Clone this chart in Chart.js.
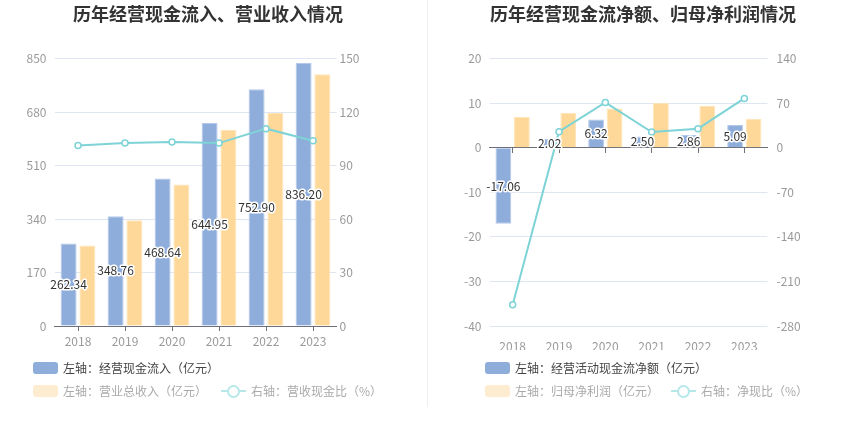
<!DOCTYPE html>
<html>
<head>
<meta charset="utf-8">
<script src="https://cdn.jsdelivr.net/npm/chart.js@4"></script>
<style>
  body { margin:0; width:850px; height:437px; background:#fff; position:relative; overflow:hidden;
         font-family:"Noto Sans CJK SC","Noto Sans",sans-serif; }
  .box { position:absolute; top:0; width:425px; height:350px; }
  #divider { position:absolute; left:427px; top:0; width:1px; height:407px; background:#eeeeee; }
  .lg { position:absolute; font-size:12px; line-height:14px; white-space:nowrap; }
  .sw { position:absolute; width:25px; height:12px; border-radius:3px; }
  .ln { position:absolute; width:25px; height:2px; }
  .ln i { position:absolute; left:6px; top:-5px; width:9px; height:9px; border-radius:50%; background:#fff; border:2px solid; }
</style>
</head>
<body>
<div class="box" style="left:0"><canvas id="c1"></canvas></div>
<div class="box" style="left:425px"><canvas id="c2"></canvas></div>
<div id="divider"></div>
<div id="legend"></div>
<script>
// ===== data =====
const years = ["2018","2019","2020","2021","2022","2023"];

// 左图
const cashIn   = [262.34, 348.76, 468.64, 644.95, 752.90, 836.20];
const revenue  = [255.6, 336.5, 449.8, 624.0, 677.0, 800.0];
const cashRate = [101.3, 102.6, 103.2, 102.6, 110.7, 103.9];

// 右图
const netCash   = [-17.06, 2.02, 6.32, 2.50, 2.86, 5.09];
const netProfit = [6.9, 7.86, 8.83, 10.1, 9.43, 6.5];
const netRate   = [-246.7, 25.1, 71.2, 24.6, 29.9, 77.5];

const leftTicks1  = [0, 850, 170];
const rightTicks1 = [0, 150, 30];
const leftTicks2  = [-40, 20, 10];
const rightTicks2 = [-280, 140, 70];

const BLUE = "#8eaddb", ORANGE = "#fed898", TEAL = "#7dd3d6";
const GRID = "#e0e6f1", AXIS = "#6e7079", TICK = "#9a9a9a";
const FONT = '"Noto Sans CJK SC","Noto Sans",sans-serif';

// ===== helper =====
// 蓝色柱子的数值标签（白色描边）
const barLabels = {
  id: "barLabels",
  afterDatasetsDraw(chart) {
    const ctx = chart.ctx;
    const meta = chart.getDatasetMeta(0);
    ctx.save();
    ctx.font = "12px " + FONT;
    ctx.textAlign = "center";
    ctx.textBaseline = "middle";
    ctx.lineJoin = "round";
    meta.data.forEach((bar, i) => {
      const txt = chart.data.datasets[0].data[i].toFixed(2);
      const y = (bar.y + bar.base) / 2;
      ctx.lineWidth = 3;
      ctx.strokeStyle = "#fff";
      ctx.strokeText(txt, bar.x, y);
      ctx.fillStyle = "#333";
      ctx.fillText(txt, bar.x, y);
    });
    ctx.restore();
  }
};

function barSet(label, data, color, border) {
  return {
    label, data, type: "bar", yAxisID: "y", xAxisID: "x", order: 1,
    backgroundColor: color, borderColor: border, borderWidth: 1,
    categoryPercentage: 0.8, barPercentage: 0.85
  };
}

function lineSet(label, data) {
  return {
    label, data, type: "line", yAxisID: "y1", xAxisID: "x", order: 0,
    borderColor: TEAL, borderWidth: 2, pointRadius: 3, pointBorderWidth: 1.5,
    pointBackgroundColor: "#fff", pointBorderColor: TEAL, tension: 0
  };
}

function yAxis(t, pos, width, pad) {
  return {
    position: pos, min: t[0], max: t[1],
    ticks: { stepSize: t[2], color: TICK, padding: pad, font: { size: 12, family: FONT } },
    grid: { display: pos === "left", color: GRID, drawTicks: false },
    border: { display: false },
    afterFit(s) { s.width = width; }
  };
}

function makeChart(el, title, datasets, opt) {
  const scales = {
    x: {
      offset: true,
      ticks: { color: TICK, padding: opt.zeroAxis ? 8 : 3, font: { size: 12, family: FONT } },
      grid: { display: !opt.zeroAxis, drawOnChartArea: false, offset: false, tickLength: 5, color: AXIS },
      border: { display: !opt.zeroAxis, color: AXIS },
      afterFit(s) { s.height = 24; }
    },
    y: yAxis(opt.left, "left", opt.lw, 8),
    y1: yAxis(opt.right, "right", opt.rw, opt.rpad)
  };
  if (opt.zeroAxis) {
    // 右图的 x 轴线画在 0 的位置
    scales.x0 = {
      type: "category", axis: "x", position: { y: 0 }, offset: true,
      ticks: { callback: () => "" },
      grid: { drawOnChartArea: false, offset: false, tickLength: 5, color: AXIS },
      border: { color: AXIS }
    };
  }
  return new Chart(el, {
    data: { labels: years, datasets },
    plugins: [barLabels],
    options: {
      responsive: true, maintainAspectRatio: false, animation: false,
      layout: { padding: opt.padding },
      plugins: {
        legend: { display: false },
        tooltip: { enabled: false },
        title: {
          display: true, text: title, color: "#333",
          font: { size: 18, weight: "bold", family: FONT },
          padding: { top: 3, bottom: 34 }
        }
      },
      scales
    }
  });
}

// ===== charts =====
const chart1 = makeChart(document.getElementById("c1"), "历年经营现金流入、营业收入情况", [
  barSet("左轴：经营现金流入（亿元）", cashIn, BLUE, "#b3c8ea"),
  barSet("左轴：营业总收入（亿元）", revenue, ORANGE, "#ffe4b5"),
  lineSet("右轴：营收现金比（%）", cashRate)
], { left: leftTicks1, right: rightTicks1, lw: 54.5, rw: 79.5, rpad: 3, padding: { left: 0, right: 9 } });

const chart2 = makeChart(document.getElementById("c2"), "历年经营现金流净额、归母净利润情况", [
  barSet("左轴：经营活动现金流净额（亿元）", netCash, BLUE, "#b3c8ea"),
  barSet("左轴：归母净利润（亿元）", netProfit, ORANGE, "#ffe4b5"),
  lineSet("右轴：净现比（%）", netRate)
], { left: leftTicks2, right: rightTicks2, lw: 53.5, rw: 82.5, rpad: 9, padding: { left: 11, right: 0 } , zeroAxis: true });

// ===== legend (HTML) =====
function legend(chart, x0, lineX) {
  const ds = chart.data.datasets;
  const root = document.getElementById("legend");
  const items = [
    { d: ds[0], sx: x0, top: 362, sw: BLUE, color: "#444" },
    { d: ds[1], sx: x0, top: 385, sw: "#feecd0", color: "#aaa" },
    { d: ds[2], sx: lineX, top: 385, line: "#b6e8ea", color: "#aaa" }
  ];
  items.forEach(it => {
    const mark = document.createElement("div");
    if (it.line) {
      mark.className = "ln";
      mark.style.cssText = `left:${it.sx}px;top:${it.top + 5}px;background:${it.line}`;
      const c = document.createElement("i");
      c.style.borderColor = it.line;
      mark.appendChild(c);
    } else {
      mark.className = "sw";
      mark.style.cssText = `left:${it.sx}px;top:${it.top}px;background:${it.sw}`;
    }
    root.appendChild(mark);
    const t = document.createElement("div");
    t.className = "lg";
    t.textContent = it.d.label;
    t.style.cssText = `left:${it.sx + 30}px;top:${it.top - 1}px;color:${it.color}`;
    root.appendChild(t);
  });
}
legend(chart1, 33, 221);
legend(chart2, 485, 671);
</script>
</body>
</html>
